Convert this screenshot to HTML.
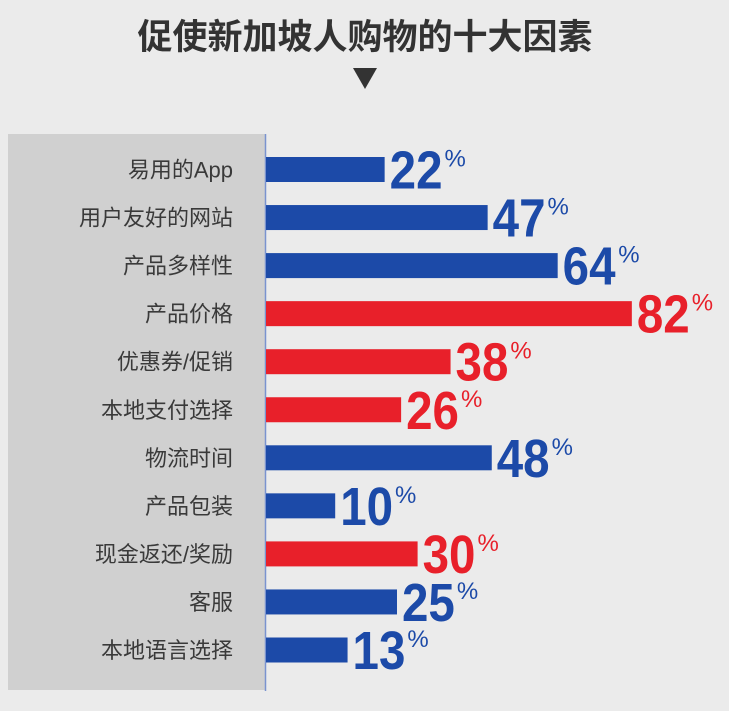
<!DOCTYPE html>
<html><head><meta charset="utf-8"><style>
body{margin:0;background:#ebebeb;width:729px;height:706px;overflow:hidden;font-family:"Liberation Sans","Noto Sans CJK SC",sans-serif}
</style></head><body>
<svg width="729" height="706">
<rect width="729" height="706" fill="#ebebeb"/>
<text x="365" y="49" text-anchor="middle" font-size="35" font-weight="bold" fill="#333" font-family="Liberation Sans, Noto Sans CJK SC, sans-serif">促使新加坡人购物的十大因素</text>
<polygon points="353,68 377,68 365,89" fill="#333"/>
<rect x="8" y="134" width="257" height="556" fill="#d0d0d0"/>
<line x1="265.5" y1="134" x2="265.5" y2="691" stroke="#7a93cf" stroke-width="1.5"/>
<g id="bars"></g>
</svg>
<script>
const categories=["易用的App","用户友好的网站","产品多样性","产品价格","优惠券/促销","本地支付选择","物流时间","产品包装","现金返还/奖励","客服","本地语言选择"];
const values=[22,47,64,82,38,26,48,10,30,25,13];
const highlight=[false,false,false,true,true,true,false,false,true,false,false];
const NS="http://www.w3.org/2000/svg";
const g=document.getElementById('bars');
function xLen(v){return 28+4.12*v;}
function yc(i){return 169.5+i*48.05;}
function mk(t,a){const e=document.createElementNS(NS,t);for(const k in a)e.setAttribute(k,a[k]);return e;}
categories.forEach((c,i)=>{
  const col=highlight[i]?"#e8202a":"#1c4aa8";
  const y=yc(i), w=xLen(values[i]);
  const lab=mk('text',{x:233,y:y+8,'text-anchor':'end','font-size':22,fill:'#3a3a3a'});
  lab.textContent=c;
  
  
  g.appendChild(lab);
  const r=mk('rect',{x:266,y:y-12.5,width:w,height:25,fill:col});
  
  
  g.appendChild(r);
  const tx=266+w+5;
  const sx=0.88;
  const num=mk('text',{x:0,y:0,'font-size':54,'font-weight':'bold',fill:col,transform:`translate(${tx},${y+19}) scale(${sx},1)`});
  num.textContent=values[i];
  
  
  g.appendChild(num);
  const nw=num.getBBox().width*sx;
  const pc=mk('text',{x:tx+nw+2,y:y-3,'font-size':24,fill:col});
  pc.textContent='%';
  
  
  g.appendChild(pc);
});
</script>
</body></html>
